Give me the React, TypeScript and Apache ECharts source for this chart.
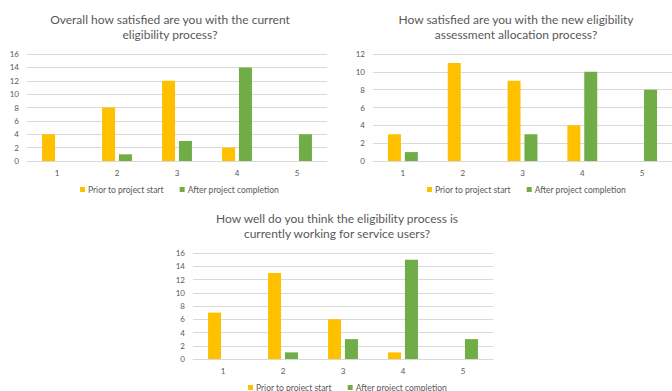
import React, { useEffect, useRef } from "react";
import * as echarts from "echarts";

const categories = ["1", "2", "3", "4", "5"];
const seriesNames = ["Prior to project start", "After project completion"];

const titles = [
  "Overall how satisfied are you with the current\neligibility process?",
  "How satisfied are you with the new eligibility\nassessment allocation process?",
  "How well do you think the eligibility process is\ncurrently working for service users?",
];

const prior1 = [4, 8, 12, 2, 0];
const after1 = [0, 1, 3, 14, 4];
const prior2 = [3, 11, 9, 4, 0];
const after2 = [1, 0, 3, 10, 8];
const prior3 = [7, 13, 6, 1, 0];
const after3 = [0, 1, 3, 15, 3];

const yMax = [16, 12, 16];

const YELLOW = "#FFC000";
const GREEN = "#70AD47";
const TEXT = "#595959";
const GRID = "#D9D9D9";
const FONT = "Lato, 'Open Sans', sans-serif";

export default function App() {
  const ref = useRef<HTMLDivElement>(null);
  useEffect(() => {
    if (!ref.current) return;
    const chart = echarts.init(ref.current, null, { renderer: "svg" });
    const grids = [
      { left: 27, top: 54, width: 300, height: 107 },
      { left: 373, top: 54, width: 300, height: 107 },
      { left: 193, top: 253, width: 300, height: 106 },
    ];
    const titleCenters = [
      { x: 170, y: 12 },
      { x: 516, y: 12 },
      { x: 337, y: 211 },
    ];
    const legendPos = [
      { left: 80, top: 185 },
      { left: 427, top: 185 },
      { left: 248, top: 383 },
    ];
    const data = [
      [prior1, after1],
      [prior2, after2],
      [prior3, after3],
    ];
    const series: any[] = [];
    data.forEach((pair, gi) => {
      pair.forEach((vals, si) => {
        series.push({
          type: "bar",
          name: seriesNames[si],
          xAxisIndex: gi,
          yAxisIndex: gi,
          data: vals,
          barWidth: 13,
          barGap: "30%",
          itemStyle: { color: si === 0 ? YELLOW : GREEN },
        });
      });
    });
    chart.setOption({
      animation: false,
      backgroundColor: "#ffffff",
      title: titles.map((t, i) => ({
        text: t,
        left: titleCenters[i].x,
        top: titleCenters[i].y,
        textAlign: "center",
        padding: 0,
        textStyle: {
          fontFamily: FONT,
          fontSize: 12,
          fontWeight: "normal",
          color: TEXT,
          lineHeight: 15,
        },
      })),
      legend: legendPos.map((p, i) => ({
        data: seriesNames,
        left: p.left,
        top: p.top,
        itemWidth: 5,
        itemHeight: 5,
        itemGap: 16,
        padding: 0,
        icon: "rect",
        textStyle: { fontFamily: FONT, fontSize: 8.5, color: TEXT, padding: [0, 0, 0, -2] },
        selectedMode: false,
      })),
      grid: grids,
      xAxis: grids.map((_, i) => ({
        type: "category",
        gridIndex: i,
        data: categories,
        axisTick: { show: false },
        axisLine: { show: true, lineStyle: { color: GRID } },
        axisLabel: { color: TEXT, fontFamily: FONT, fontSize: 8, margin: 8 },
      })),
      yAxis: grids.map((_, i) => ({
        type: "value",
        gridIndex: i,
        min: 0,
        max: yMax[i],
        interval: 2,
        axisLine: { show: false },
        axisTick: { show: false },
        splitLine: { lineStyle: { color: GRID } },
        axisLabel: { color: TEXT, fontFamily: FONT, fontSize: 8, margin: 8 },
      })),
      series,
    });
    return () => chart.dispose();
  }, []);
  return (
    <div
      ref={ref}
      style={{ position: "absolute", left: 0, top: 0, width: 672, height: 391 }}
    />
  );
}
